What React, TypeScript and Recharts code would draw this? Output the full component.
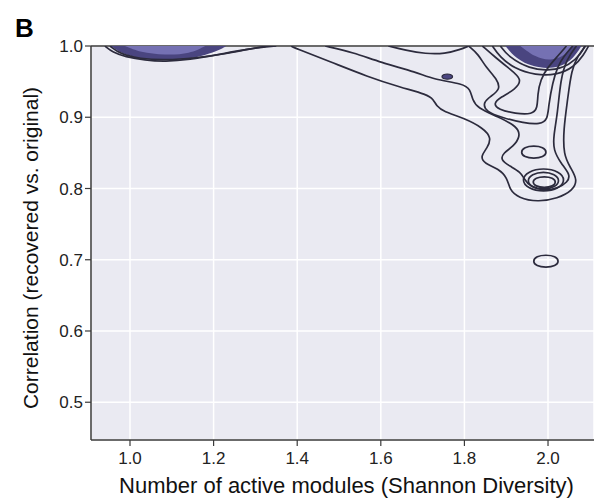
import React from 'react';
import {
  ScatterChart,
  Scatter,
  XAxis,
  YAxis,
  CartesianGrid,
  ReferenceLine,
} from 'recharts';

type Pt = [number, number];

const X_TICKS = [1.0, 1.2, 1.4, 1.6, 1.8, 2.0];
const Y_TICKS = [0.5, 0.6, 0.7, 0.8, 0.9, 1.0];

// density blob near x ~ 1.1 (filled)
const LEFT_FILL: Pt[] = [
  [0.954, 1.0], [0.981, 0.989], [1.024, 0.982], [1.072, 0.98], [1.132, 0.981],
  [1.18, 0.987], [1.22, 0.996], [1.23, 1.0],
];
const LEFT_CORE: Pt[] = [
  [0.988, 1.0], [1.024, 0.991], [1.084, 0.987], [1.144, 0.989], [1.18, 1.0],
];
const LEFT_RING_1: Pt[] = [
  [0.94, 1.0], [0.959, 0.991], [0.988, 0.985], [1.036, 0.98], [1.084, 0.978],
  [1.144, 0.981], [1.204, 0.987], [1.263, 0.994], [1.311, 0.998], [1.35, 1.0],
];
const LEFT_RING_2: Pt[] = [
  [0.952, 1.0], [0.976, 0.989], [1.024, 0.982], [1.084, 0.98], [1.156, 0.983],
  [1.228, 0.989], [1.287, 0.996], [1.33, 1.0],
];

// density blob near x ~ 2.0 (filled)
const RIGHT_FILL: Pt[] = [
  [1.898, 1.0], [1.922, 0.983], [1.965, 0.97], [2.013, 0.968], [2.054, 0.977], [2.08, 1.0],
];
const RIGHT_CORE: Pt[] = [
  [1.934, 1.0], [1.97, 0.984], [2.006, 0.979], [2.042, 0.987], [2.059, 1.0],
];
const RIGHT_RING_1: Pt[] = [
  [1.867, 1.0], [1.884, 0.985], [1.92, 0.968], [1.97, 0.959], [2.02, 0.959],
  [2.062, 0.97], [2.086, 0.988], [2.097, 1.0],
];
const RIGHT_RING_2: Pt[] = [
  [1.886, 1.0], [1.905, 0.985], [1.955, 0.968], [2.006, 0.965], [2.052, 0.973],
  [2.08, 0.99], [2.088, 1.0],
];

// open contours hanging from the top edge
const OUTER_1: Pt[] = [
  [1.386, 1.0], [1.39, 0.998], [1.479, 0.978], [1.568, 0.957], [1.647, 0.942],
  [1.711, 0.932], [1.726, 0.925], [1.733, 0.916], [1.75, 0.908], [1.798, 0.899],
  [1.845, 0.885], [1.865, 0.871], [1.855, 0.857], [1.838, 0.845], [1.848, 0.835],
  [1.881, 0.828], [1.903, 0.815], [1.908, 0.798], [1.929, 0.787], [1.975, 0.781],
  [2.023, 0.786], [2.059, 0.797], [2.071, 0.812], [2.054, 0.829], [2.037, 0.847],
  [2.037, 0.883], [2.047, 0.925], [2.056, 0.967], [2.073, 0.988], [2.09, 1.0],
];
const OUTER_2: Pt[] = [
  [1.467, 1.0], [1.534, 0.991], [1.599, 0.977], [1.687, 0.963], [1.726, 0.953],
  [1.798, 0.947], [1.814, 0.939], [1.819, 0.925], [1.831, 0.913], [1.879, 0.901],
  [1.927, 0.887], [1.934, 0.873], [1.917, 0.859], [1.893, 0.85], [1.886, 0.84],
  [1.91, 0.831], [1.934, 0.823], [1.941, 0.815], [1.958, 0.802], [1.989, 0.797],
  [2.023, 0.8], [2.047, 0.809], [2.054, 0.819], [2.03, 0.836], [2.013, 0.854],
  [2.013, 0.873], [2.023, 0.906], [2.03, 0.953], [2.044, 0.981], [2.068, 1.0],
];
const TOP_HUG: Pt[] = [
  [1.618, 1.0], [1.659, 0.994], [1.707, 0.989], [1.754, 0.989], [1.79, 0.995], [1.81, 1.0],
];
const INNER_1: Pt[] = [
  [1.81, 1.0], [1.834, 0.988], [1.85, 0.971], [1.879, 0.953], [1.886, 0.939],
  [1.862, 0.929], [1.845, 0.921], [1.85, 0.908], [1.893, 0.899], [1.941, 0.892],
  [1.982, 0.89], [1.999, 0.897], [2.001, 0.915], [2.011, 0.949], [2.023, 0.971],
  [2.037, 0.985], [2.059, 1.0],
];
const INNER_2: Pt[] = [
  [1.843, 1.0], [1.874, 0.984], [1.91, 0.967], [1.939, 0.953], [1.922, 0.939],
  [1.886, 0.928], [1.869, 0.919], [1.881, 0.911], [1.922, 0.905], [1.963, 0.904],
  [1.975, 0.913], [1.975, 0.932], [1.982, 0.953], [1.999, 0.97], [2.025, 0.987],
  [2.044, 1.0],
];

// closed islands
const ISLAND_081_A: Pt[] = [
  [2.042, 0.812], [2.027, 0.824], [1.989, 0.829], [1.952, 0.824],
  [1.936, 0.812], [1.952, 0.8], [1.989, 0.795], [2.027, 0.8],
];
const ISLAND_081_B: Pt[] = [
  [2.029, 0.811], [2.017, 0.82], [1.989, 0.824], [1.961, 0.82],
  [1.949, 0.811], [1.961, 0.802], [1.989, 0.798], [2.017, 0.802],
];
const ISLAND_081_C: Pt[] = [
  [2.02, 0.809], [2.012, 0.815], [1.991, 0.817], [1.97, 0.815],
  [1.962, 0.809], [1.97, 0.803], [1.991, 0.801], [2.012, 0.803],
];
const ISLAND_085: Pt[] = [
  [1.998, 0.851], [1.989, 0.858], [1.966, 0.86], [1.943, 0.858],
  [1.934, 0.851], [1.943, 0.844], [1.966, 0.842], [1.989, 0.844],
];
const ISLAND_070: Pt[] = [
  [2.027, 0.698], [2.018, 0.705], [1.995, 0.707], [1.972, 0.705],
  [1.963, 0.698], [1.972, 0.691], [1.995, 0.689], [2.018, 0.691],
];
const SPECK: Pt[] = [
  [1.773, 0.957], [1.769, 0.96], [1.759, 0.961], [1.749, 0.96],
  [1.745, 0.957], [1.749, 0.954], [1.759, 0.953], [1.769, 0.954],
];

const FONT = '"Liberation Sans", Arial, Helvetica, sans-serif';
const INK = '#2c2b3d';
const AXIS = '#3a3a3a';

const FILLS = [
  { key: 'lf', pts: LEFT_FILL, color: '#4a4580' },
  { key: 'lc', pts: LEFT_CORE, color: '#7571b3' },
  { key: 'rf', pts: RIGHT_FILL, color: '#4a4580' },
  { key: 'rc', pts: RIGHT_CORE, color: '#7571b3' },
];

const OPEN_LINES = [
  { key: 'l1', pts: LEFT_RING_1 },
  { key: 'l2', pts: LEFT_RING_2 },
  { key: 'r1', pts: RIGHT_RING_1 },
  { key: 'r2', pts: RIGHT_RING_2 },
  { key: 'o1', pts: OUTER_1 },
  { key: 'o2', pts: OUTER_2 },
  { key: 'th', pts: TOP_HUG },
  { key: 'i1', pts: INNER_1 },
  { key: 'i2', pts: INNER_2 },
];

const CLOSED_LINES = [
  { key: 'a', pts: ISLAND_081_A },
  { key: 'b', pts: ISLAND_081_B },
  { key: 'c', pts: ISLAND_081_C },
  { key: 'd', pts: ISLAND_085 },
  { key: 'e', pts: ISLAND_070 },
];

const toRows = (pts: Pt[]) => pts.map(([x, y]) => ({ x, y }));
const noDot = () => <g />;

const YTitle = (props: any) => {
  const { x, y, height } = props.viewBox;
  const cx = x + 38;
  const cy = y + height / 2 + 5;
  return (
    <g>
      <text x={15} y={37} fontFamily={FONT} fontSize={26} fontWeight="bold" fill="#000">
        B
      </text>
      <text
        x={cx}
        y={cy}
        transform={`rotate(-90 ${cx} ${cy})`}
        textAnchor="middle"
        fontFamily={FONT}
        fontSize={21}
        fill="#111"
      >
        Correlation (recovered vs. original)
      </text>
    </g>
  );
};

const XTitle = (props: any) => {
  const { x, width } = props.viewBox;
  return (
    <text
      x={x + width / 2 + 4}
      y={493}
      textAnchor="middle"
      fontFamily={FONT}
      fontSize={22}
      fill="#111"
    >
      Number of active modules (Shannon Diversity)
    </text>
  );
};

export default function App() {
  const tick = { fontSize: 17, fill: '#222', fontFamily: FONT };
  return (
    <div style={{ position: 'absolute', left: 0, top: 0 }}>
      <ScatterChart width={594} height={500} margin={{ top: 46, right: 0, bottom: 0, left: 0 }}>
        <CartesianGrid fill="#eaeaf2" stroke="#ffffff" strokeWidth={1.5} />
        <XAxis
          type="number"
          dataKey="x"
          domain={[0.9067, 2.11]}
          ticks={X_TICKS}
          allowDataOverflow
          height={60}
          tickSize={6}
          tickMargin={6}
          tick={tick}
          tickFormatter={(v: number) => v.toFixed(1)}
          axisLine={{ stroke: AXIS, strokeWidth: 1.5 }}
          tickLine={{ stroke: AXIS, strokeWidth: 1.2 }}
          label={XTitle}
        />
        <YAxis
          type="number"
          dataKey="y"
          domain={[0.447, 1.0]}
          ticks={Y_TICKS}
          allowDataOverflow
          width={91}
          tickSize={6}
          tickMargin={2}
          tick={tick}
          tickFormatter={(v: number) => v.toFixed(1)}
          axisLine={{ stroke: AXIS, strokeWidth: 1.5 }}
          tickLine={{ stroke: AXIS, strokeWidth: 1.2 }}
          label={YTitle}
        />
        {FILLS.map(({ key, pts, color }) => (
          <Scatter
            key={key}
            data={toRows(pts)}
            shape={noDot}
            line={{ fill: color, stroke: 'none' }}
            lineJointType="basis"
            isAnimationActive={false}
          />
        ))}
        {OPEN_LINES.map(({ key, pts }) => (
          <Scatter
            key={key}
            data={toRows(pts)}
            shape={noDot}
            line={{ stroke: INK, strokeWidth: 1.7, fill: 'none' }}
            lineJointType="basis"
            isAnimationActive={false}
          />
        ))}
        {CLOSED_LINES.map(({ key, pts }) => (
          <Scatter
            key={key}
            data={toRows(pts)}
            shape={noDot}
            line={{ stroke: INK, strokeWidth: 1.7, fill: 'none' }}
            lineJointType="basisClosed"
            isAnimationActive={false}
          />
        ))}
        <Scatter
          data={toRows(SPECK)}
          shape={noDot}
          line={{ stroke: INK, strokeWidth: 1.2, fill: '#4a4580' }}
          lineJointType="basisClosed"
          isAnimationActive={false}
        />
        <ReferenceLine y={1.0} stroke={AXIS} strokeWidth={1.5} />
      </ScatterChart>
    </div>
  );
}
